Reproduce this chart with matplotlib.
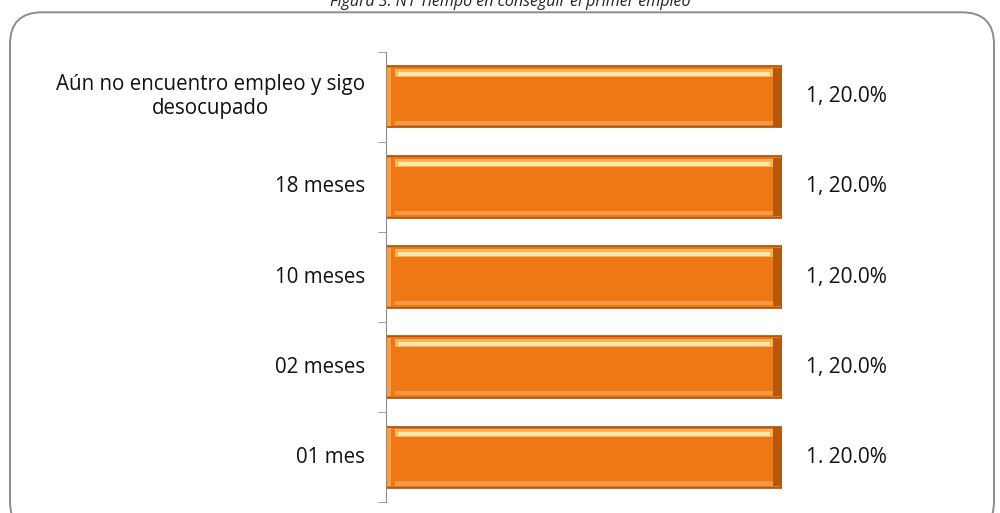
import matplotlib.pyplot as plt
from matplotlib.patches import FancyBboxPatch
from matplotlib.transforms import blended_transform_factory
import numpy as np

# Datos del gráfico
categorias = ['01 mes', '02 meses', '10 meses', '18 meses',
              'Aún no encuentro empleo y sigo\ndesocupado']
frecuencia = [1, 1, 1, 1, 1]
etiquetas = ['1. 20.0%', '1, 20.0%', '1, 20.0%', '1, 20.0%', '1, 20.0%']
titulo = 'Figura 3. N1 Tiempo en conseguir el primer empleo'

plt.rcParams['font.family'] = ['Open Sans', 'DejaVu Sans']

fig = plt.figure(figsize=(10, 5.13), dpi=100)

# Marco redondeado alrededor del gráfico
marco = FancyBboxPatch((0.010, -0.04), 0.984, 1.016, transform=fig.transFigure,
                       boxstyle='round,pad=0,rounding_size=0.032',
                       facecolor='none', edgecolor='#8c8c8c', linewidth=1.4,
                       mutation_aspect=1.95, zorder=-1)
fig.patches.append(marco)

fig.text(0.51, 0.996, titulo, ha='center', va='center', fontsize=11.5,
         style='italic', color='#222222')

ax = fig.add_axes([0.386, 0.021, 0.396, 0.878])
y = np.arange(len(categorias))
alto = 0.68
v = np.array(frecuencia)

# Barra base y efecto biselado
ax.barh(y, v, height=alto, color='#f07814', edgecolor='#a94f0a', linewidth=1.2)
ax.barh(y + alto / 2 - 0.075, v - 0.045, left=0.022, height=0.09,
        color='#f9b45a', edgecolor='none')
ax.barh(y + alto / 2 - 0.085, v - 0.06, left=0.03, height=0.045,
        color='#ffe7a8', edgecolor='none')
ax.barh(y - alto / 2 + 0.05, v - 0.045, left=0.022, height=0.05,
        color='#f39a45', edgecolor='none')
ax.barh(y, 0.022, left=v - 0.022, height=alto - 0.04,
        color='#b8580c', edgecolor='none')
ax.barh(y, 0.012, left=0.0, height=alto - 0.04,
        color='#f6a04c', edgecolor='none')

for yi, vi, txt in zip(y, v, etiquetas):
    ax.text(vi + 0.06, yi, txt, va='center', ha='left', fontsize=15, color='#111111')

# Etiquetas de categoría: bloque alineado a la derecha, líneas centradas
trans = blended_transform_factory(fig.transFigure, ax.transData)
for yi, cat in zip(y, categorias):
    ax.text(0.365, yi, cat, transform=trans, ha='right', va='center',
            multialignment='center', fontsize=14.8, color='#111111',
            linespacing=1.2)

ax.set_xlim(0, 1)
ax.set_ylim(-0.5, len(categorias) - 0.5)
ax.set_yticks([])
ax.set_yticks(np.arange(-0.5, len(categorias)), minor=True)
ax.tick_params(axis='y', which='minor', length=6, color='#8c8c8c', direction='out')
ax.set_xticks([])
for s in ['top', 'right', 'bottom']:
    ax.spines[s].set_visible(False)
ax.spines['left'].set_color('#8c8c8c')
ax.set_facecolor('none')

fig.savefig('out.png', dpi=100)
